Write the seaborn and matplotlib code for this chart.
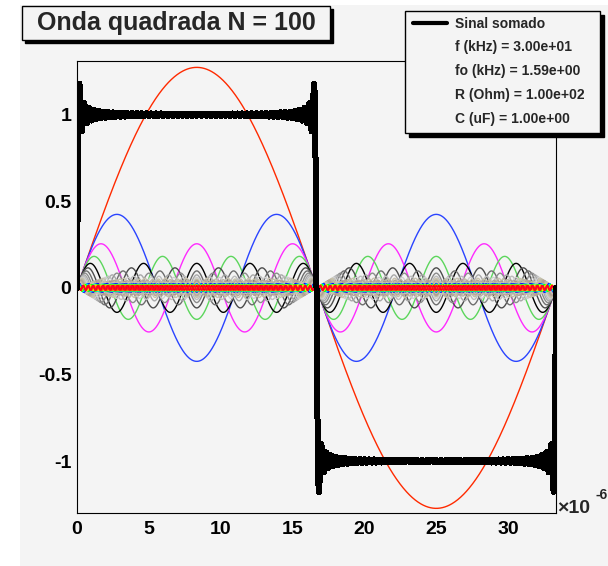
import numpy as np
import pandas as pd
import matplotlib
matplotlib.use("Agg")
import matplotlib.pyplot as plt
import seaborn as sns
from matplotlib.patches import Rectangle
from matplotlib.lines import Line2D

# ---------------- data ----------------
title_text = "Onda quadrada N = 100"
harmonic_orders = [1, 3, 5, 7, 9, 11, 13, 15, 17, 19, 21, 23, 25, 27, 29, 31, 33, 35, 37, 39,
                   41, 43, 45, 47, 49, 51, 53, 55, 57, 59, 61, 63, 65, 67, 69, 71, 73, 75, 77, 79,
                   81, 83, 85, 87, 89, 91, 93, 95, 97, 99]
harmonic_amplitudes = [1.2732, 0.4244, 0.2546, 0.1819, 0.1415, 0.1157, 0.0979, 0.0849, 0.0749, 0.0670,
                       0.0606, 0.0554, 0.0509, 0.0472, 0.0439, 0.0411, 0.0386, 0.0364, 0.0344, 0.0326,
                       0.0311, 0.0296, 0.0283, 0.0271, 0.0260, 0.0250, 0.0240, 0.0231, 0.0223, 0.0216,
                       0.0209, 0.0202, 0.0196, 0.0190, 0.0185, 0.0179, 0.0174, 0.0170, 0.0165, 0.0161,
                       0.0157, 0.0153, 0.0150, 0.0146, 0.0143, 0.0140, 0.0137, 0.0134, 0.0131, 0.0129]
period_us = 33.333          # 1 / (30 kHz)
n_samples = 1000
x_ticks = [0, 5, 10, 15, 20, 25, 30]
x_tick_labels = ["0", "5", "10", "15", "20", "25", "30"]
y_ticks = [-1, -0.5, 0, 0.5, 1]
y_tick_labels = ["-1", "-0.5", "0", "0.5", "1"]
legend_sum_label = "Sinal somado"
legend_info = ["f (kHz) = 3.00e+01", "fo (kHz) = 1.59e+00",
               "R (Ohm) = 1.00e+02", "C (uF) = 1.00e+00"]

# ---------------- build curves ----------------
t = np.linspace(0, period_us, n_samples + 1)
frames = []
for n, a in zip(harmonic_orders, harmonic_amplitudes):
    frames.append(pd.DataFrame({"t": t, "v": a * np.sin(2 * np.pi * n * t / period_us), "n": n}))
df = pd.concat(frames, ignore_index=True)
sum_signal = df.groupby("t", sort=True)["v"].sum().values

# colours (style)
first_cols = ["#ff2a00", "#2a44ff", "#ff2aff", "#5cd65c", "#000000"]
grey_cols = ["#4c4c4c", "#6e6e6e", "#8c8c8c", "#a8a8a8", "#bdbdbd", "#cfcfcf",
             "#c8c2ae", "#c1bfa8", "#bab5a3", "#b2a596", "#b7a39b", "#ad998c",
             "#c0b8a8", "#b8b0a0", "#cdc6b4", "#c5bfae", "#d0cab8", "#c8c0ac",
             "#bcb4a4", "#d2ccbc"]
n_rain = len(harmonic_orders) - len(first_cols) - len(grey_cols)
rain = [matplotlib.colormaps["gist_rainbow"](v) for v in np.linspace(0.80, 0.0, n_rain)]
all_cols = first_cols + grey_cols + rain
palette = {n: c for n, c in zip(harmonic_orders, all_cols)}

# ---------------- figure ----------------
sns.set_theme(style="white")
plt.rcParams["font.family"] = ["Liberation Sans", "DejaVu Sans"]
plt.rcParams["font.weight"] = "bold"

W, H = 608, 566
fig = plt.figure(figsize=(W / 100, H / 100), dpi=100)
fig.patch.set_facecolor("white")
bg = "#f4f4f4"

def fx(x):
    return x / W

def fy(y):
    return 1 - y / H

fig.patches.append(Rectangle((fx(20), 0.0), 1 - fx(20), fy(5), transform=fig.transFigure,
                             facecolor=bg, edgecolor="none", zorder=-10))

ax = fig.add_axes([fx(77), fy(513), fx(556) - fx(77), fy(61) - fy(513)])
ax.set_facecolor(bg)

sns.lineplot(data=df, x="t", y="v", hue="n", palette=palette, hue_order=harmonic_orders,
             estimator=None, sort=False, linewidth=1.0, legend=False, ax=ax)
sns.lineplot(x=t, y=sum_signal, color="black", linewidth=3.6, estimator=None, sort=False,
             ax=ax, zorder=5, antialiased=False)

ax.set_xlim(0, period_us)
ax.set_ylim(-1.30, 1.31)
ax.set_xlabel("")
ax.set_ylabel("")
ax.set_xticks(x_ticks)
ax.set_xticklabels(x_tick_labels)
ax.set_yticks(y_ticks)
ax.set_yticklabels(y_tick_labels)
ax.set_xticks(np.arange(0, 34, 1), minor=True)
ax.set_yticks(np.arange(-1.3, 1.31, 0.1), minor=True)
ax.tick_params(axis="both", which="both", direction="in", top=False, right=False,
               colors="black", width=0.8)
ax.tick_params(axis="both", which="major", length=10, labelsize=14)
ax.tick_params(axis="both", which="minor", length=5)
ax.tick_params(axis="x", which="major", pad=6)
ax.tick_params(axis="y", which="major", pad=4)
for lab in ax.get_xticklabels() + ax.get_yticklabels():
    lab.set_fontweight("bold")
for s in ax.spines.values():
    s.set_visible(True)
    s.set_color("black")
    s.set_linewidth(0.8)

fig.text(fx(557), fy(513), "\u00d710", fontsize=14, fontweight="bold", ha="left", va="baseline")
fig.text(fx(595), fy(499), "-6", fontsize=10, fontweight="bold", ha="left", va="baseline")

# title box
def shadow_box(l, t_, r, b, off):
    fig.patches.append(Rectangle((fx(l + off), fy(b + off)), fx(r) - fx(l), fy(t_) - fy(b),
                                 transform=fig.transFigure, facecolor="black",
                                 edgecolor="black", zorder=20))
    fig.patches.append(Rectangle((fx(l), fy(b)), fx(r) - fx(l), fy(t_) - fy(b),
                                 transform=fig.transFigure, facecolor=bg,
                                 edgecolor="black", linewidth=1.0, zorder=21))

shadow_box(22, 6, 330, 40, 3)
fig.text(fx(176), fy(23), title_text, fontsize=18, fontweight="bold",
         ha="center", va="center", zorder=22)

shadow_box(405, 11, 600, 133, 4)
fig.lines.append(Line2D([fx(413), fx(447)], [fy(23), fy(23)], transform=fig.transFigure,
                        color="black", linewidth=3.0, zorder=22))
fig.text(fx(455), fy(23.5), legend_sum_label, fontsize=10, fontweight="bold",
         ha="left", va="center", zorder=22)
for i, s in enumerate(legend_info):
    fig.text(fx(455), fy(47.5 + 24 * i), s, fontsize=10, fontweight="bold",
             ha="left", va="center", zorder=22)

fig.savefig("out.png", dpi=100)
